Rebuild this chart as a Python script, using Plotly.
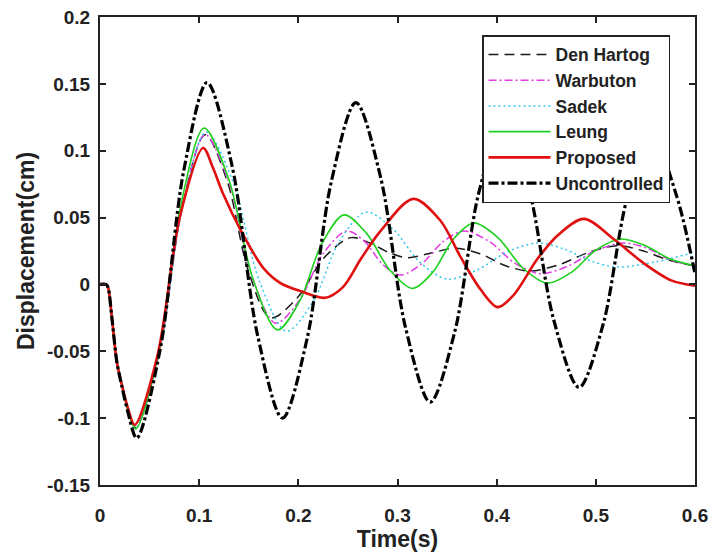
import plotly.graph_objects as go

# ---- data (time in s, displacement in cm) ----
t_den = [0, 0.006, 0.008, 0.012, 0.017, 0.022, 0.028, 0.036, 0.0593, 0.0827, 0.106, 0.128, 0.150, 0.172,
         0.199, 0.226, 0.253, 0.272, 0.291, 0.31, 0.334, 0.358, 0.383, 0.409, 0.434, 0.463, 0.493, 0.522,
         0.548, 0.574, 0.6]
y_den = [0, 0, -0.002, -0.025, -0.058, -0.075, -0.093, -0.107, -0.052, 0.057, 0.112, 0.078, 0.009, -0.025,
         -0.010, 0.020, 0.035, 0.031, 0.024, 0.020, 0.0235, 0.027, 0.023, 0.014, 0.010, 0.0148, 0.024, 0.029,
         0.025, 0.018, 0.014]

t_war = [0, 0.006, 0.008, 0.012, 0.017, 0.022, 0.028, 0.036, 0.0593, 0.0827, 0.106, 0.1297, 0.1533, 0.177,
         0.201, 0.225, 0.249, 0.267, 0.285, 0.303, 0.3243, 0.3457, 0.367, 0.3927, 0.4183, 0.444, 0.472, 0.500,
         0.528, 0.552, 0.576, 0.6]
y_war = [0, 0, -0.002, -0.025, -0.058, -0.075, -0.093, -0.107, -0.052, 0.057, 0.112, 0.077, 0.006, -0.029,
         -0.012, 0.023, 0.040, 0.032, 0.015, 0.007, 0.0153, 0.0318, 0.040, 0.032, 0.016, 0.008, 0.0138, 0.0253,
         0.031, 0.027, 0.018, 0.014]

t_sad = [0, 0.006, 0.008, 0.012, 0.017, 0.022, 0.028, 0.036, 0.0597, 0.0833, 0.107, 0.134, 0.161, 0.188,
         0.2147, 0.2413, 0.268, 0.2953, 0.3227, 0.350, 0.3803, 0.4107, 0.441, 0.468, 0.495, 0.522, 0.561, 0.6]
y_sad = [0, 0, -0.002, -0.025, -0.058, -0.075, -0.093, -0.107, -0.052, 0.058, 0.114, 0.077, 0.002, -0.035,
         -0.013, 0.032, 0.054, 0.0415, 0.0165, 0.004, 0.0108, 0.0243, 0.031, 0.0265, 0.0175, 0.013, 0.017, 0.024]

t_leu = [0, 0.006, 0.008, 0.012, 0.017, 0.022, 0.028, 0.036, 0.059, 0.082, 0.105, 0.1297, 0.1543, 0.179,
         0.2013, 0.2237, 0.246, 0.269, 0.292, 0.315, 0.3357, 0.3563, 0.377, 0.4017, 0.4263, 0.451, 0.4757,
         0.5003, 0.525, 0.55, 0.575, 0.6]
y_leu = [0, 0, -0.002, -0.025, -0.058, -0.075, -0.094, -0.108, -0.052, 0.061, 0.117, 0.079, 0.004, -0.034,
         -0.0125, 0.0305, 0.052, 0.038, 0.011, -0.003, 0.00925, 0.0338, 0.046, 0.0347, 0.0123, 0.001, 0.00925,
         0.0258, 0.034, 0.029, 0.019, 0.014]

t_pro = [0, 0.006, 0.008, 0.012, 0.017, 0.022, 0.028, 0.035, 0.058, 0.081, 0.104, 0.114, 0.124, 0.143,
         0.165, 0.182, 0.202, 0.227, 0.245, 0.263, 0.283, 0.316, 0.343, 0.364, 0.384, 0.401, 0.417, 0.441, 0.462,
         0.488, 0.518, 0.548, 0.576, 0.6]
y_pro = [0, 0, -0.002, -0.025, -0.058, -0.075, -0.092, -0.105, -0.053, 0.052, 0.102, 0.087, 0.068, 0.039,
         0.012, 0.001, -0.005, -0.010, -0.002, 0.019, 0.040, 0.064, 0.048, 0.020, -0.004, -0.017, -0.008, 0.019,
         0.037, 0.049, 0.034, 0.016, 0.003, -0.001]

t_unc = [0, 0.006, 0.008, 0.012, 0.017, 0.022, 0.028, 0.037, 0.0607, 0.0843, 0.108, 0.1333, 0.1587, 0.184,
         0.2087, 0.2333, 0.258, 0.283, 0.308, 0.333, 0.3577, 0.3823, 0.407, 0.4323, 0.4577, 0.483, 0.5073,
         0.5317, 0.556, 0.5813, 0.6]
y_unc = [0, 0, -0.002, -0.025, -0.058, -0.076, -0.095, -0.115, -0.0485, 0.0845, 0.151, 0.0882, -0.0373, -0.100,
         -0.041, 0.077, 0.136, 0.080, -0.032, -0.088, -0.0355, 0.0695, 0.122, 0.0722, -0.027, -0.077, -0.030,
         0.065, 0.112, 0.0665, 0.008]

x_ticks = [0, 0.1, 0.2, 0.3, 0.4, 0.5, 0.6]
x_tick_text = ["0", "0.1", "0.2", "0.3", "0.4", "0.5", "0.6"]
y_ticks = [-0.15, -0.1, -0.05, 0, 0.05, 0.1, 0.15, 0.2]
y_tick_text = ["-0.15", "-0.1", "-0.05", "0", "0.05", "0.1", "0.15", "0.2"]

series = [
    ("Den Hartog", t_den, y_den, "#1a1a1a", 1.5, "10px,6px"),
    ("Warbuton", t_war, y_war, "#e23be2", 1.5, "8px,3px,2px,3px"),
    ("Sadek", t_sad, y_sad, "#33c8ec", 1.5, "2px,3px"),
    ("Leung", t_leu, y_leu, "#1ed01e", 1.6, "solid"),
    ("Proposed", t_pro, y_pro, "#e01010", 2.6, "solid"),
    ("Uncontrolled", t_unc, y_unc, "#000000", 3.2, "10px,3px,3px,3px"),
]

fig = go.Figure()
for name, tx, ty, col, w, dash in series:
    fig.add_trace(go.Scatter(x=tx, y=ty, mode="lines", name=name,
                             line=dict(color=col, width=w, dash=dash, shape="spline", smoothing=0.9)))

font_family = "Liberation Sans, Arial, sans-serif"
axis_common = dict(showline=True, linecolor="#222222", linewidth=2, mirror="allticks",
                   ticks="inside", ticklen=6, tickwidth=1.5, tickcolor="#222222",
                   showgrid=False, zeroline=False, automargin=False,
                   tickfont=dict(family=font_family, size=19, color="#222222", weight="bold"))

fig.update_layout(
    width=714, height=554,
    margin=dict(l=100, r=19, t=17, b=69),
    paper_bgcolor="white", plot_bgcolor="white",
    font=dict(family=font_family, color="#222222"),
    showlegend=True,
    legend=dict(x=0.958, y=0.9615, xanchor="right", yanchor="top",
                bgcolor="white", bordercolor="#222222", borderwidth=1.5,
                font=dict(family=font_family, size=17.5, color="#222222", weight="bold"),
                itemwidth=62, tracegroupgap=0),
    xaxis=dict(range=[0, 0.6], tickvals=x_ticks, ticktext=x_tick_text, ticklabelstandoff=12,
               title=dict(text="Time(s)", font=dict(size=23, family=font_family, weight="bold"), standoff=4),
               **axis_common),
    yaxis=dict(range=[-0.15, 0.2], tickvals=y_ticks, ticktext=y_tick_text, ticklabelstandoff=4,
               title=dict(text="Displacement(cm)", font=dict(size=23, family=font_family, weight="bold"),
                          standoff=6),
               **axis_common),
)

fig.write_html("out.html", config={"displayModeBar": False},
               post_script="document.body.style.margin='0px';document.body.style.overflow='hidden';")
